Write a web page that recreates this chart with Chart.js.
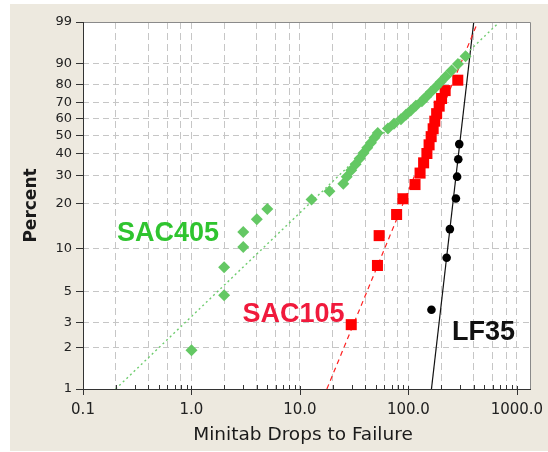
<!DOCTYPE html>
<html>
<head>
<meta charset="utf-8">
<script src="https://cdn.jsdelivr.net/npm/chart.js@4.4.1/dist/chart.umd.min.js"></script>
<style>
  html, body { margin: 0; background: #fff; }
  canvas { display: block; }
</style>
</head>
<body>
<canvas id="wb" width="548" height="452"></canvas>
<script>
// Weibull plot: drops to failure for three solder alloys
const xLabels = [0.1, 1, 10, 100, 1000];
const xGrid = [0.1, 0.2, 0.4, 0.6, 0.8, 1, 2, 4, 6, 8, 10, 20, 40, 60, 80, 100, 200, 400, 600, 800, 1000];
const yTicks = [1, 2, 3, 5, 10, 20, 30, 40, 50, 60, 70, 80, 90, 99];

const sac405Drops = [1.0, 2.0, 2.0, 3.0, 3.0, 4.0, 5.0, 12.8, 18.7, 25.1, 27.0, 29.7, 32.6, 35.5, 38.6, 41.7, 45.1, 48.5, 52.1,
  64.7, 73.5, 85.3, 94.8, 105, 117, 133, 146, 161, 178, 198, 221, 250, 286, 336];
const sac405Pct = [1.9, 4.7, 7.4, 10.2, 12.9, 15.7, 18.4, 21.2, 23.9, 26.6, 29.4, 32.1, 34.9, 37.6, 40.4, 43.1, 45.9, 48.6, 51.4,
  54.1, 56.9, 59.6, 62.4, 65.1, 67.9, 70.6, 73.4, 76.1, 78.8, 81.6, 84.3, 87.1, 89.8, 92.6];

const sac105Drops = [29.7, 51.8, 53.7, 77.8, 88.9, 115, 128, 138, 148, 155, 162, 169, 175, 182, 192, 202, 218, 285];
const sac105Pct = [2.9, 7.6, 12.2, 16.9, 21.4, 26.3, 30.9, 35.5, 40.1, 44.7, 49.3, 53.9, 58.5, 63.1, 67.7, 72.3, 76.9, 82.5];

const lf35Drops = [163, 225, 241, 274, 281, 288, 294];
const lf35Pct = [3.7, 8.6, 13.5, 21.5, 29.4, 37.2, 45.1];

// fitted lines, end points [drops at 1 %, drops at 99 %]
const sac405Fit = [0.2, 690];
const sac105Fit = [17.7, 436];
const lf35Fit = [163, 400];
const fitPct = [1, 99];

// Weibull probability axis
const wb = p => Math.log(-Math.log(1 - p / 100));
const pts = (xs, ps) => xs.map((x, i) => ({ x: x, y: wb(ps[i]) }));

const callouts = [
  { text: "SAC405", x: 0.206, p: 12.7, color: "#2fc42f" },
  { text: "SAC105", x: 2.95, p: 3.45, color: "#f01a3c" },
  { text: "LF35", x: 252, p: 2.54, color: "#111" }
];

const frame = {
  id: "frame",
  beforeDraw(chart) {
    const { ctx, width, height, chartArea: a } = chart;
    ctx.save();
    ctx.fillStyle = "#fff";
    ctx.fillRect(0, 0, width, height);
    ctx.fillStyle = "#ede9df";
    ctx.fillRect(10, 4, width - 10, height - 5);
    ctx.fillStyle = "#fff";
    ctx.fillRect(a.left, a.top, a.right - a.left, a.bottom - a.top);
    ctx.restore();
  },
  afterDatasetsDraw(chart) {
    const { ctx, chartArea: a, scales } = chart;
    ctx.save();
    // top/right edges grey, axes dark
    ctx.lineWidth = 1;
    ctx.strokeStyle = "#8a8a8a";
    ctx.beginPath();
    ctx.moveTo(a.left, a.top + 0.5); ctx.lineTo(a.right + 0.5, a.top + 0.5); ctx.lineTo(a.right + 0.5, a.bottom);
    ctx.stroke();
    ctx.strokeStyle = "#333";
    ctx.beginPath();
    ctx.moveTo(a.left + 0.5, a.top); ctx.lineTo(a.left + 0.5, a.bottom + 0.5); ctx.lineTo(a.right + 1, a.bottom + 0.5);
    ctx.stroke();
    // x ticks: decades reach below the axis, 2..9 sit inside
    ctx.beginPath();
    for (let d = 0.1; d < 2000; d *= 10) {
      for (let m = 1; m <= 9; m++) {
        const v = d * m;
        if (v > scales.x.max) break;
        const px = Math.round(scales.x.getPixelForValue(v)) + 0.5;
        if (m === 1) { ctx.moveTo(px, a.bottom - 3); ctx.lineTo(px, a.bottom + 6); }
        else { ctx.moveTo(px, a.bottom - 4); ctx.lineTo(px, a.bottom); }
      }
    }
    ctx.stroke();
    ctx.restore();
  },
  afterDraw(chart) {
    const { ctx, chartArea: a, scales } = chart;
    ctx.save();
    ctx.textBaseline = "middle";
    ctx.font = "bold 27px 'Liberation Sans', Arial, sans-serif";
    ctx.textAlign = "left";
    callouts.forEach(c => {
      ctx.fillStyle = c.color;
      ctx.fillText(c.text, scales.x.getPixelForValue(c.x), scales.y.getPixelForValue(wb(c.p)));
    });
    ctx.fillStyle = "#1a1a1a";
    ctx.textAlign = "center";
    ctx.font = "18.5px 'DejaVu Sans', sans-serif";
    ctx.fillText("Minitab Drops to Failure", 303, 435);
    ctx.translate(32, (a.top + a.bottom) / 2);
    ctx.rotate(-Math.PI / 2);
    ctx.font = "bold 17px 'DejaVu Sans', sans-serif";
    ctx.fillText("Percent", 0, 0);
    ctx.restore();
  }
};

Chart.defaults.font.family = "'DejaVu Sans', sans-serif";

new Chart(document.getElementById("wb"), {
  type: "scatter",
  data: {
    datasets: [
      { label: "SAC405", data: pts(sac405Drops, sac405Pct), pointStyle: "rectRot", pointRadius: 6,
        backgroundColor: "#64c864", borderColor: "#64c864", borderWidth: 0, order: 1 },
      { label: "SAC105", data: pts(sac105Drops, sac105Pct), pointStyle: "rect", pointRadius: 7.8,
        backgroundColor: "#ff0000", borderColor: "#ff0000", borderWidth: 0, order: 1 },
      { label: "LF35", data: pts(lf35Drops, lf35Pct), pointStyle: "circle", pointRadius: 4.3,
        backgroundColor: "#000", borderColor: "#000", borderWidth: 0, order: 1 },
      { label: "SAC405 fit", data: pts(sac405Fit, fitPct), showLine: true, pointRadius: 0,
        borderColor: "#6fcc6f", borderWidth: 1.4, borderDash: [2, 3], order: 2 },
      { label: "SAC105 fit", data: pts(sac105Fit, fitPct), showLine: true, pointRadius: 0,
        borderColor: "#ff2020", borderWidth: 1.2, borderDash: [5, 4], order: 2 },
      { label: "LF35 fit", data: pts(lf35Fit, fitPct), showLine: true, pointRadius: 0,
        borderColor: "#111", borderWidth: 1.2, order: 2 }
    ]
  },
  options: {
    responsive: false,
    animation: false,
    devicePixelRatio: 1,
    layout: { padding: { top: 22, right: 18, left: 0, bottom: 0 } },
    plugins: { legend: { display: false }, tooltip: { enabled: false } },
    scales: {
      x: {
        type: "logarithmic", min: 0.1, max: 1320,
        afterBuildTicks: s => { s.ticks = xGrid.map(v => ({ value: v })); },
        afterFit: s => { s.height = 63; s.paddingLeft = 0; s.paddingRight = 0; },
        ticks: { autoSkip: false, maxRotation: 0, padding: 12, color: "#222", font: { size: 15 },
          callback: v => xLabels.includes(v) ? v.toFixed(1) : "" },
        grid: { color: "#c6c6c6", lineWidth: 1, drawTicks: false },
        border: { display: false, dash: [7, 4] }
      },
      y: {
        type: "linear", min: wb(1), max: wb(99),
        afterBuildTicks: s => { s.ticks = yTicks.map(p => ({ value: wb(p) })); },
        afterFit: s => { s.width = 83; s.paddingTop = 0; s.paddingBottom = 0; },
        ticks: { autoSkip: false, padding: 4, color: "#222", font: { size: 13 },
          callback: (v, i) => String(yTicks[i]) },
        grid: { color: "#c6c6c6", lineWidth: 1, drawTicks: true, tickLength: 7,
          tickColor: "#333", tickBorderDash: [] },
        border: { display: false, dash: [6, 4] }
      }
    }
  },
  plugins: [frame]
});
</script>
</body>
</html>
